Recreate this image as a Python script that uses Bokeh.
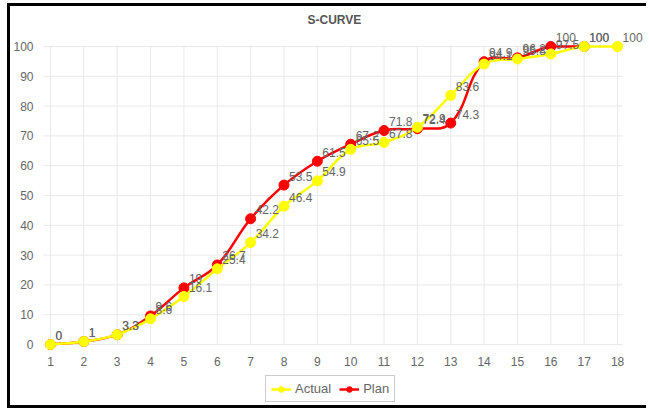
import math
from bokeh.plotting import figure
from bokeh.models import Range1d, FixedTicker, Legend, LegendItem
from bokeh.core.properties import value
from bokeh.embed import file_html
from bokeh.resources import INLINE

# ---- data ----
title_text = "S-CURVE"
periods = list(range(1, 19))
actual = [0, 1, 3.3, 8.6, 16.1, 25.4, 34.2, 46.4, 54.9, 65.5, 67.8, 72.9, 83.6, 94.1, 95.8, 97.5, 100, 100]
plan_periods = list(range(1, 18))
plan = [0, 1, 3.3, 9.6, 19, 26.7, 42.2, 53.5, 61.5, 67.2, 71.8, 72.4, 74.3, 94.9, 96.2, 100, 100]
y_ticks = list(range(0, 101, 10))
series_names = ["Actual", "Plan"]

# ---- layout constants (pixels) ----
W, H = 639, 405
BL, BR, BT, BB = 30, 0, 24, 0
FW, FH = W - BL - BR, H - BT - BB
PAD_L, PAD_R, PAD_B, PAD_T = 9, 32, 67, 16
xmin, xmax = periods[0], periods[-1]
ymin, ymax = y_ticks[0], y_ticks[-1]
SX = (FW - PAD_L - PAD_R) / (xmax - xmin)
SY = (FH - PAD_B - PAD_T) / (ymax - ymin)

FONT = "Liberation Sans"
GRAY = "#666666"


def spline_segments(xs, ys, t=0.4):
    """Chart.js-style cubic bezier control points (computed in pixel space)."""
    n = len(xs)
    px = [x * SX for x in xs]
    py = [y * SY for y in ys]
    prev_c, next_c = [], []
    for i in range(n):
        a = max(i - 1, 0)
        b = min(i + 1, n - 1)
        d01 = math.hypot(px[i] - px[a], py[i] - py[a])
        d12 = math.hypot(px[b] - px[i], py[b] - py[i])
        tot = d01 + d12
        s01 = d01 / tot if tot else 0
        s12 = d12 / tot if tot else 0
        fa, fb = t * s01, t * s12
        pc = (px[i] - fa * (px[b] - px[a]), py[i] - fa * (py[b] - py[a]))
        nc = (px[i] + fb * (px[b] - px[a]), py[i] + fb * (py[b] - py[a]))
        prev_c.append((min(max(pc[0] / SX, xmin), xmax), min(max(pc[1] / SY, ymin), ymax)))
        next_c.append((min(max(nc[0] / SX, xmin), xmax), min(max(nc[1] / SY, ymin), ymax)))
    return dict(x0=xs[:-1], y0=ys[:-1], x1=xs[1:], y1=ys[1:],
                cx0=[c[0] for c in next_c[:-1]], cy0=[c[1] for c in next_c[:-1]],
                cx1=[c[0] for c in prev_c[1:]], cy1=[c[1] for c in prev_c[1:]])


p = figure(width=W, height=H, output_backend="svg", toolbar_location=None,
           x_range=Range1d(xmin - PAD_L / SX, xmax + PAD_R / SX),
           y_range=Range1d(ymin - PAD_B / SY, ymax + PAD_T / SY),
           min_border_left=BL, min_border_right=BR, min_border_top=BT, min_border_bottom=BB)
p.outline_line_color = None
p.xgrid.visible = False
p.ygrid.visible = False
p.xaxis.visible = False
p.styles = {"margin-left": "7px", "margin-top": "3px",
            "border-top": "3px solid #000", "border-left": "3px solid #000",
            "border-bottom": "3px solid #000"}

p.title.text = title_text
p.title.align = "left"
p.title.offset = 266
p.title.text_font = FONT
p.title.text_font_size = "12px"
p.title.text_font_style = "bold"
p.title.text_color = "#555555"
p.title.standoff = 7

# custom grid
GRID = "#e9e9e9"
p.segment(x0=periods, x1=periods, y0=[ymin] * len(periods), y1=[ymax] * len(periods),
          line_color=GRID, line_width=1)
p.segment(x0=[xmin - 7 / SX] * len(y_ticks), x1=[xmax + 5 / SX] * len(y_ticks), y0=y_ticks, y1=y_ticks,
          line_color=GRID, line_width=1)

ax = p.yaxis[0]
ax.axis_line_color = None
ax.major_tick_line_color = None
ax.minor_tick_line_color = None
ax.major_label_text_font = FONT
ax.major_label_text_font_size = "12px"
ax.major_label_text_color = GRAY
ax.ticker = FixedTicker(ticks=y_ticks)
ax.major_label_standoff = 2

# x tick labels under the grid
p.text(x=periods, y=[ymin] * len(periods), text=[str(v) for v in periods], y_offset=17,
       text_align="center", text_baseline="middle", text_font=value(FONT),
       text_font_size="12px", text_color=GRAY)

YELLOW, RED = "#ffff00", "#ff0000"

# Plan (drawn below)
plan_curve = p.bezier(**spline_segments(plan_periods, plan), line_color=RED, line_width=2.5)
plan_pts = p.scatter(plan_periods, plan, size=10, color=RED)
# Actual (drawn on top)
act_curve = p.bezier(**spline_segments(periods, actual), line_color=YELLOW, line_width=2.5)
act_pts = p.scatter(periods, actual, size=10, color=YELLOW)

for xs, ys in ((plan_periods, plan), (periods, actual)):
    p.text(x=xs, y=ys, text=[f"{v:g}" for v in ys], x_offset=5, y_offset=-9,
           text_baseline="middle", text_align="left", text_font=value(FONT),
           text_font_size="12px", text_color=GRAY)

legend = Legend(items=[LegendItem(label=series_names[0], renderers=[act_curve, act_pts]),
                       LegendItem(label=series_names[1], renderers=[plan_curve, plan_pts])],
                orientation="horizontal", location=(224, 9))
legend.label_text_font = FONT
legend.label_text_font_size = "13px"
legend.label_text_color = GRAY
legend.border_line_color = "#999999"
legend.border_line_width = 1.5
legend.glyph_width = 20
legend.glyph_height = 14
legend.label_height = 14
legend.label_standoff = 4
legend.spacing = 8
legend.padding = 5
legend.margin = 0
p.add_layout(legend)

open("out.html", "w").write(file_html(p, INLINE))
